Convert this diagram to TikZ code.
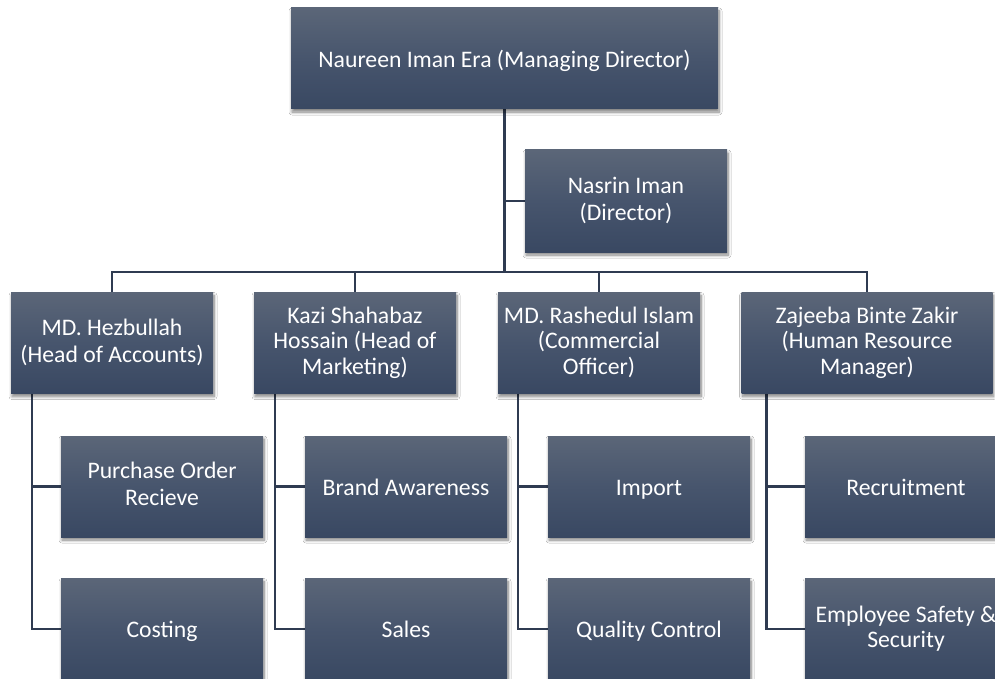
\documentclass[tikz,border=0pt]{standalone}
\usepackage{fontspec}
\newfontfamily\boxfont{Carlito}
\usetikzlibrary{shadows.blur,backgrounds}
\definecolor{boxtop}{HTML}{5B6678}
\definecolor{boxmid}{HTML}{47556D}
\definecolor{boxbot}{HTML}{394862}
\definecolor{linkcol}{HTML}{2F3B51}
% fixed line struts so every label sits at the same height in its box
\newcommand\firstlinestrut{\rule{0pt}{22.5pt}}
\newcommand\lastlinestrut{\rule[-4.7pt]{0pt}{4.7pt}}
\tikzset{
  orgbox/.style={rectangle, minimum width=202pt, minimum height=101pt, inner sep=0pt,
    align=center, text=white,
    font={\boxfont\fontsize{23.7}{27}\selectfont},
    execute at begin node=\firstlinestrut, execute at end node=\lastlinestrut,
    top color=boxtop, bottom color=boxbot, middle color=boxmid,
    blur shadow={shadow xshift=1pt, shadow yshift=-3pt, shadow blur steps=8,
      shadow blur radius=3pt, shadow opacity=50}},
  tight/.style={font={\boxfont\fontsize{23.7}{25.5}\selectfont}},
  link/.style={draw=linkcol, line width=2.5pt}
}
\begin{document}
\begin{tikzpicture}[x=1pt,y=-1pt]
\useasboundingbox (0,0) rectangle (995,679);
\clip (0,0) rectangle (995,679);

% top level
\node[orgbox, minimum width=427pt] (md) at (504.5,58.5) {Naureen Iman Era (Managing Director)};
\node[orgbox, minimum height=102pt] (dir) at (626,201) {Nasrin Iman\\(Director)};

% department heads
\node[orgbox] (hez) at (112,343) {MD. Hezbullah\\(Head of Accounts)};
\node[orgbox, tight] (kazi) at (355,343) {Kazi Shahabaz\\Hossain (Head of\\Marketing)};
\node[orgbox, tight] (rash) at (599,343) {MD. Rashedul Islam\\(Commercial\\Officer)};
\node[orgbox, tight, minimum width=251pt] (zaj) at (867,343) {Zajeeba Binte Zakir\\(Human Resource\\Manager)};

% tasks
\node[orgbox] (po) at (162,486.5) {Purchase Order\\Recieve};
\node[orgbox] (cost) at (162,629) {Costing};
\node[orgbox] (brand) at (406,486.5) {Brand Awareness};
\node[orgbox] (sales) at (406,629) {Sales};
\node[orgbox] (imp) at (649,486.5) {Import};
\node[orgbox] (qc) at (649,629) {Quality Control};
\node[orgbox] (rec) at (906,486.5) {Recruitment};
\node[orgbox, tight] (safe) at (906,629) {Employee Safety \&\\Security};

% connectors
\begin{scope}[on background layer]
  \fill[white] (0,0) rectangle (995,679);
  \coordinate (bus) at (504,272);
  \draw[link] (md.south) -- (md.south |- bus);
  \draw[link] (dir.west) -- (dir.west -| md.south);
  \draw[link] (hez.north) -- (hez.north |- bus) -- (zaj.north |- bus) -- (zaj.north);
  \draw[link] (kazi.north) -- (kazi.north |- bus);
  \draw[link] (rash.north) -- (rash.north |- bus);
  \draw[link] ([xshift=21pt]hez.south west) |- (po.west);
  \draw[link] ([xshift=21pt]hez.south west) |- (cost.west);
  \draw[link] ([xshift=21pt]kazi.south west) |- (brand.west);
  \draw[link] ([xshift=21pt]kazi.south west) |- (sales.west);
  \draw[link] ([xshift=20pt]rash.south west) |- (imp.west);
  \draw[link] ([xshift=20pt]rash.south west) |- (qc.west);
  \draw[link] ([xshift=25pt]zaj.south west) |- (rec.west);
  \draw[link] ([xshift=25pt]zaj.south west) |- (safe.west);
\end{scope}
\end{tikzpicture}
\end{document}
